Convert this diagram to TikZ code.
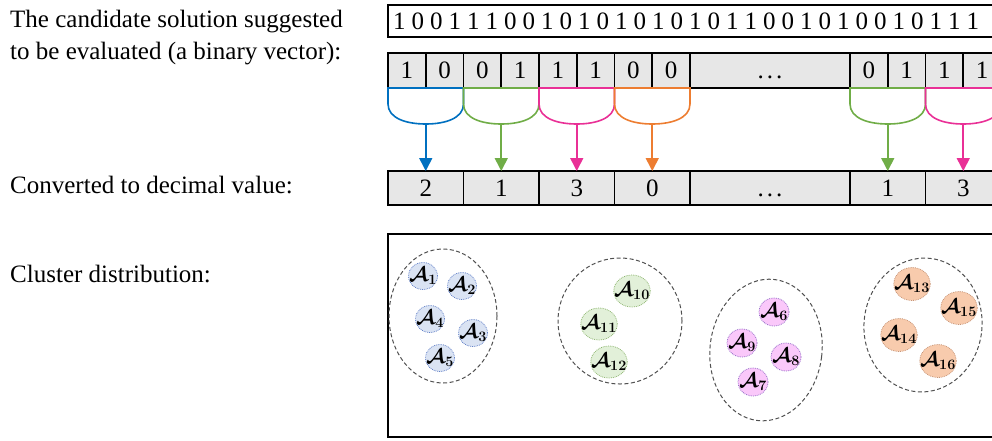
\documentclass[tikz,border=0pt]{standalone}
\usepackage{amsmath, amssymb}
\usepackage{fontspec}
\setmainfont{Liberation Serif}
\usepackage{tikz}
\usetikzlibrary{arrows.meta, positioning, shapes.geometric, calc}

\definecolor{cellgray}{RGB}{231,231,231}
\definecolor{bluebr}{RGB}{0,112,192}
\definecolor{greenbr}{RGB}{112,173,71}
\definecolor{pinkbr}{RGB}{233,48,150}
\definecolor{orangebr}{RGB}{237,125,49}
\definecolor{ringgray}{RGB}{80,80,80}
\definecolor{agblue}{RGB}{218,227,243}
\definecolor{agblueline}{RGB}{100,130,200}
\definecolor{aggreen}{RGB}{226,240,217}
\definecolor{aggreenline}{RGB}{140,180,110}
\definecolor{agpink}{RGB}{250,200,250}
\definecolor{agpinkline}{RGB}{150,110,200}
\definecolor{agorange}{RGB}{248,203,173}
\definecolor{agorangeline}{RGB}{200,150,120}

\newcommand{\celldots}{\vphantom{0}.\hspace{3pt}.\hspace{3pt}.}

\begin{document}
\begin{tikzpicture}[x=1pt, y=-1pt,
    % Styles
    every node/.style={font=\fontsize{25}{32}\selectfont},
    rowlabel/.style={anchor=base west, inner sep=0pt},
    bitcell/.style={draw, line width=1.8pt, fill=cellgray, minimum width=37.75pt, minimum height=35pt, inner sep=0pt, outer sep=0pt, anchor=west},
    deccell/.style={bitcell, minimum width=75.5pt, minimum height=34pt},
    dotcell/.style={bitcell, minimum width=160pt},
    pairbrace/.style={line width=1.6pt},
    arrowstyle/.style={-{Triangle[width=13pt,length=13pt]}, line width=1.6pt},
    clusterring/.style={ellipse, draw=ringgray, dash pattern=on 4pt off 2.5pt, line width=1pt, inner sep=0pt},
    agent/.style={ellipse, densely dotted, line width=0.8pt, inner sep=-5pt, font=\fontsize{20}{20}\selectfont},
    blueagent/.style={agent, fill=agblue, draw=agblueline, minimum width=29pt, minimum height=27pt},
    greenagent/.style={agent, fill=aggreen, draw=aggreenline, minimum width=35pt, minimum height=32pt},
    pinkagent/.style={agent, fill=agpink, draw=agpinkline, minimum width=30pt, minimum height=28pt},
    orangeagent/.style={agent, fill=agorange, draw=agorangeline, minimum width=36pt, minimum height=33pt},
]
    \useasboundingbox (0,0) rectangle (992,440);
    \clip (0,0) rectangle (992,440);

    % Row labels on the left
    \node[anchor=north west, inner sep=0pt, align=left] (lblsol) at (10,10) {The candidate solution suggested\\to be evaluated (a binary vector):};
    \node[rowlabel] (lbldec) at (10,193) {Converted to decimal value:};
    \node[rowlabel] (lblclu) at (10,282) {Cluster distribution:};

    % Candidate solution bar
    \node[draw, line width=2.4pt, minimum height=32pt, text width=760pt, align=left, inner xsep=5pt, inner ysep=0pt, anchor=west] (solbar) at (387,21) {\spaceskip=6pt\relax 1 0 0 1 1 1 0 0 1 0 1 0 1 0 1 0 1 0 1 1 0 0 1 0 1 0 0 1 0 1 1 1};

    % Binary cells
    \node[bitcell] (b1) at (388,70.5) {1};
    \node[bitcell] (b2) at (b1.east) {0};
    \node[bitcell] (b3) at (b2.east) {0};
    \node[bitcell] (b4) at (b3.east) {1};
    \node[bitcell] (b5) at (b4.east) {1};
    \node[bitcell] (b6) at (b5.east) {1};
    \node[bitcell] (b7) at (b6.east) {0};
    \node[bitcell] (b8) at (b7.east) {0};
    \node[dotcell] (bdots) at (b8.east) {\celldots};
    \node[bitcell] (b9) at (bdots.east) {0};
    \node[bitcell] (b10) at (b9.east) {1};
    \node[bitcell] (b11) at (b10.east) {1};
    \node[bitcell] (b12) at (b11.east) {1};

    % Decimal cells
    \node[deccell] (d1) at (388,188) {2};
    \node[deccell] (d2) at (d1.east) {1};
    \node[deccell] (d3) at (d2.east) {3};
    \node[deccell] (d4) at (d3.east) {0};
    \node[dotcell, minimum height=34pt] (ddots) at (d4.east) {\celldots};
    \node[deccell] (d5) at (ddots.east) {1};
    \node[deccell] (d6) at (d5.east) {3};

    % Brace under each pair of bits, arrow to its decimal value
    \coordinate (br1) at ([yshift=-36pt]b1.south east);
    \draw[pairbrace, bluebr] (b1.south west) -- ++(0,16) .. controls +(0,14) and +(-20,0) .. (br1) .. controls +(20,0) and +(0,14) .. ([yshift=-16pt]b2.south east) -- (b2.south east) -- cycle;
    \draw[arrowstyle, bluebr] (br1) -- (d1.north);

    \coordinate (br2) at ([yshift=-36pt]b3.south east);
    \draw[pairbrace, greenbr] (b3.south west) -- ++(0,16) .. controls +(0,14) and +(-20,0) .. (br2) .. controls +(20,0) and +(0,14) .. ([yshift=-16pt]b4.south east) -- (b4.south east) -- cycle;
    \draw[arrowstyle, greenbr] (br2) -- (d2.north);

    \coordinate (br3) at ([yshift=-36pt]b5.south east);
    \draw[pairbrace, pinkbr] (b5.south west) -- ++(0,16) .. controls +(0,14) and +(-20,0) .. (br3) .. controls +(20,0) and +(0,14) .. ([yshift=-16pt]b6.south east) -- (b6.south east) -- cycle;
    \draw[arrowstyle, pinkbr] (br3) -- (d3.north);

    \coordinate (br4) at ([yshift=-36pt]b7.south east);
    \draw[pairbrace, orangebr] (b7.south west) -- ++(0,16) .. controls +(0,14) and +(-20,0) .. (br4) .. controls +(20,0) and +(0,14) .. ([yshift=-16pt]b8.south east) -- (b8.south east) -- cycle;
    \draw[arrowstyle, orangebr] (br4) -- (d4.north);

    \coordinate (br5) at ([yshift=-36pt]b9.south east);
    \draw[pairbrace, greenbr] (b9.south west) -- ++(0,16) .. controls +(0,14) and +(-20,0) .. (br5) .. controls +(20,0) and +(0,14) .. ([yshift=-16pt]b10.south east) -- (b10.south east) -- cycle;
    \draw[arrowstyle, greenbr] (br5) -- (d5.north);

    \coordinate (br6) at ([yshift=-36pt]b11.south east);
    \draw[pairbrace, pinkbr] (b11.south west) -- ++(0,16) .. controls +(0,14) and +(-20,0) .. (br6) .. controls +(20,0) and +(0,14) .. ([yshift=-16pt]b12.south east) -- (b12.south east) -- cycle;
    \draw[arrowstyle, pinkbr] (br6) -- (d6.north);

    % Cluster distribution box
    \node[draw, line width=1.8pt, minimum width=640pt, minimum height=203pt, anchor=north west, inner sep=0pt, outer sep=0pt] (clbox) at (388,234) {};

    % Clusters
    \node[clusterring, minimum width=108pt, minimum height=134pt] (ring1) at (443,316) {};
    \node[clusterring, minimum width=124pt, minimum height=126pt] (ring2) at (620,321) {};
    \node[clusterring, minimum width=112pt, minimum height=142pt, rotate=-7] (ring3) at (766,350) {};
    \node[clusterring, minimum width=118pt, minimum height=134pt, rotate=-6] (ring4) at (923,325) {};

    % Agents
    \node[blueagent] (a1) at (423,276) {$\boldsymbol{\mathcal{A}_{1}}$};
    \node[blueagent] (a2) at (462,286) {$\boldsymbol{\mathcal{A}_{2}}$};
    \node[blueagent] (a4) at (430,319) {$\boldsymbol{\mathcal{A}_{4}}$};
    \node[blueagent] (a3) at (473,333) {$\boldsymbol{\mathcal{A}_{3}}$};
    \node[blueagent] (a5) at (440,358) {$\boldsymbol{\mathcal{A}_{5}}$};

    \node[greenagent] (a10) at (632,291) {$\boldsymbol{\mathcal{A}_{10}}$};
    \node[greenagent] (a11) at (599,324) {$\boldsymbol{\mathcal{A}_{11}}$};
    \node[greenagent] (a12) at (609,362) {$\boldsymbol{\mathcal{A}_{12}}$};

    \node[pinkagent] (a6) at (774,312) {$\boldsymbol{\mathcal{A}_{6}}$};
    \node[pinkagent] (a9) at (742,343) {$\boldsymbol{\mathcal{A}_{9}}$};
    \node[pinkagent] (a8) at (786,357) {$\boldsymbol{\mathcal{A}_{8}}$};
    \node[pinkagent] (a7) at (753,382) {$\boldsymbol{\mathcal{A}_{7}}$};

    \node[orangeagent] (a13) at (912,284) {$\boldsymbol{\mathcal{A}_{13}}$};
    \node[orangeagent] (a15) at (959,308) {$\boldsymbol{\mathcal{A}_{15}}$};
    \node[orangeagent] (a14) at (899,335) {$\boldsymbol{\mathcal{A}_{14}}$};
    \node[orangeagent] (a16) at (938,361) {$\boldsymbol{\mathcal{A}_{16}}$};

\end{tikzpicture}
\end{document}
